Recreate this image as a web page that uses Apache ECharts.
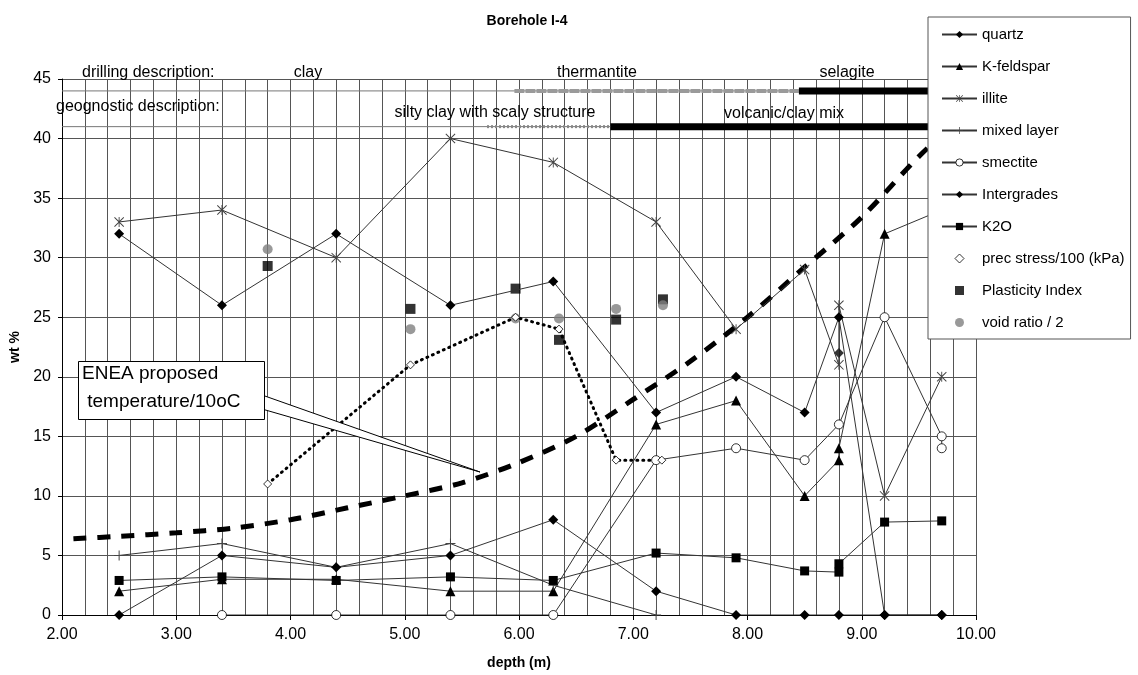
<!DOCTYPE html>
<html>
<head>
<meta charset="utf-8">
<title>Borehole I-4</title>
<script src="https://cdn.jsdelivr.net/npm/echarts@6/dist/echarts.min.js"></script>
<style>
  html, body { margin: 0; padding: 0; background: #fff; }
  #chart { width: 1138px; height: 675px; }
</style>
</head>
<body>
<div id="chart"></div>
<script>
// [depth (m), value] pairs
const quartz = [[2.5, 32], [3.4, 26], [4.4, 32], [5.4, 26], [6.3, 28], [7.2, 17], [7.9, 20], [8.5, 17], [8.8, 25], [9.2, 0], [9.7, 0]];
const quartzExtra = [[8.8, 22]];
const kFeldspar = [[2.5, 2], [3.4, 3], [4.4, 3], [5.4, 2], [6.3, 2], [7.2, 16], [7.9, 18], [8.5, 10], [8.8, 13], [8.8, 14], [9.2, 32], [9.7, 34]];
const illite = [[2.5, 33], [3.4, 34], [4.4, 30], [5.4, 40], [6.3, 38], [7.2, 33], [7.9, 24], [8.5, 29], [8.8, 21], [8.8, 26], [9.2, 10], [9.7, 20]];
const mixedLayer = [[2.5, 5], [3.4, 6], [4.4, 4], [5.4, 6], [6.3, 2.5], [7.2, 0]];
const smectite = [[3.4, 0], [4.4, 0], [5.4, 0], [6.3, 0], [7.2, 13], [7.9, 14], [8.5, 13], [8.8, 16], [9.2, 25], [9.7, 15], [9.7, 14]];
const intergrades = [[2.5, 0], [3.4, 5], [4.4, 4], [5.4, 5], [6.3, 8], [7.2, 2], [7.9, 0], [8.5, 0], [8.8, 0], [9.2, 0], [9.7, 0]];
const k2o = [[2.5, 2.9], [3.4, 3.2], [4.4, 2.9], [5.4, 3.2], [6.3, 2.9], [7.2, 5.2], [7.9, 4.8], [8.5, 3.7], [8.8, 3.6], [8.8, 4.3], [9.2, 7.8], [9.7, 7.9]];
const precStress = [[3.8, 11], [5.05, 21], [5.97, 25], [6.35, 24], [6.85, 13], [7.25, 13]];
const plasticityIndex = [[3.8, 29.3], [5.05, 25.7], [5.97, 27.4], [6.35, 23.1], [6.85, 24.8], [7.26, 26.5]];
const voidRatio = [[3.8, 30.7], [5.05, 24], [5.97, 24.9], [6.35, 24.9], [6.85, 25.7], [7.26, 26]];
const temperature = [[2.1, 6.4], [2.5, 6.6], [3.0, 6.9], [3.5, 7.3], [4.0, 8.0], [4.5, 9.0], [5.0, 10.0], [5.5, 11.1], [6.0, 12.8], [6.5, 15.0], [7.0, 18.1], [7.5, 21.3], [8.0, 25.0], [8.5, 29.2], [9.0, 33.4], [9.5, 38.5], [9.9, 42]];

// description bars
const drillingBase = [[2, 44], [10, 44]];
const drillingThermantite = [[5.96, 44], [8.45, 44]];
const drillingSelagite = [[8.45, 44], [10, 44]];
const geoBase = [[2, 41], [10, 41]];
const geoSilty = [[5.72, 41], [6.8, 41]];
const geoVolcanic = [[6.8, 41], [10, 41]];

const xTicks = { min: 2, max: 10, step: 1 };
const yTicks = { min: 0, max: 45, step: 5 };
const legendNames = ['quartz', 'K-feldspar', 'illite', 'mixed layer', 'smectite', 'Intergrades', 'K2O', 'prec stress/100 (kPa)', 'Plasticity Index', 'void ratio / 2'];

const FONT = '"Liberation Sans", Arial, sans-serif';
const ASTERISK = 'path://M0,0.7L0.7,0L5,4.3L9.3,0L10,0.7L5.7,5L10,9.3L9.3,10L5,5.7L0.7,10L0,9.3L4.3,5Z M4.55,0H5.45V10H4.55Z';
const PLUS = 'path://M4.5,0H5.5V4.5H10V5.5H5.5V10H4.5V5.5H0V4.5H4.5Z';
const SQUARE = 'path://M0,0H10V10H0Z';
const DIAMOND = 'path://M5,0L10,5L5,10L0,5Z';

class BoreholeChart {
  constructor(el) {
    this.chart = echarts.init(el, null, { renderer: 'canvas' });
  }

  init() {
    this.chart.setOption(this.buildOption());
  }

  lineSeries(name, data, symbol, size, color) {
    return {
      name: name,
      type: 'line',
      data: data,
      symbol: symbol,
      symbolSize: size,
      showSymbol: true,
      showAllSymbol: true,
      lineStyle: { color: '#333', width: 1 },
      itemStyle: { color: color || '#000', borderWidth: 0 },
      emphasis: { disabled: true }
    };
  }

  barSeries(data, color, width, type) {
    return {
      type: 'line',
      data: data,
      symbol: 'none',
      silent: true,
      lineStyle: { color: color, width: width, type: type || 'solid', cap: 'butt' },
      emphasis: { disabled: true }
    };
  }

  legendItem(name) {
    if (name === 'prec stress/100 (kPa)') {
      return { name: name, icon: DIAMOND, itemStyle: { color: '#fff', borderColor: '#000', borderWidth: 0.8 } };
    }
    if (name === 'smectite') return { name: name, itemStyle: { color: '#fff', borderColor: '#000', borderWidth: 0.8 } };
    if (name === 'Plasticity Index') return { name: name, icon: SQUARE };
    if (name === 'void ratio / 2') return { name: name, icon: 'circle' };
    return name;
  }

  buildOption() {
    const prec = this.lineSeries('prec stress/100 (kPa)', precStress, DIAMOND, 8);
    prec.lineStyle = { color: '#000', width: 3, type: [1, 5], cap: 'round' };
    prec.itemStyle = { color: '#fff', borderColor: '#000', borderWidth: 0.8 };

    const smect = this.lineSeries('smectite', smectite, 'circle', 9);
    smect.itemStyle = { color: '#fff', borderColor: '#000', borderWidth: 0.8 };

    return {
      animation: false,
      backgroundColor: '#fff',
      textStyle: { fontFamily: FONT },
      title: {
        text: 'Borehole I-4',
        left: 522,
        top: 9,
        textAlign: 'center',
        textStyle: { fontFamily: FONT, fontSize: 14, fontWeight: 'bold', color: '#000' }
      },
      grid: { left: 62, right: 162, top: 79, bottom: 59, containLabel: false },
      legend: {
        data: legendNames.map((n) => this.legendItem(n)),
        orient: 'vertical',
        left: 928,
        top: 17,
        padding: [9, 6, 8, 13],
        itemGap: 15,
        itemWidth: 35,
        itemHeight: 9,
        backgroundColor: '#fff',
        borderColor: '#555',
        borderWidth: 1,
        selectedMode: false,
        textStyle: { fontFamily: FONT, fontSize: 15, color: '#000', lineHeight: 17 }
      },
      xAxis: {
        type: 'value',
        min: xTicks.min,
        max: xTicks.max,
        interval: xTicks.step,
        name: 'depth (m)',
        nameLocation: 'middle',
        nameGap: 41,
        nameTextStyle: { fontFamily: FONT, fontSize: 14, fontWeight: 'bold', color: '#000' },
        axisLine: { show: true, lineStyle: { color: '#000', width: 1 } },
        axisTick: { show: true, length: 5, lineStyle: { color: '#000' } },
        axisLabel: { margin: 12, fontSize: 16, color: '#000', fontFamily: FONT, formatter: (v) => v.toFixed(2) },
        splitLine: { show: true, lineStyle: { color: '#555', width: 1 } },
        minorTick: { show: false, splitNumber: 5 },
        minorSplitLine: { show: true, lineStyle: { color: '#555', width: 1 } }
      },
      yAxis: {
        type: 'value',
        min: yTicks.min,
        max: yTicks.max,
        interval: yTicks.step,
        name: 'wt %',
        nameLocation: 'middle',
        nameGap: 37,
        nameTextStyle: { fontFamily: FONT, fontSize: 14, fontWeight: 'bold', color: '#000' },
        axisLine: { show: true, lineStyle: { color: '#000', width: 1 } },
        axisTick: { show: true, length: 4, lineStyle: { color: '#000' } },
        axisLabel: { margin: 11, fontSize: 16, color: '#000', fontFamily: FONT },
        splitLine: { show: true, lineStyle: { color: '#555', width: 1 } }
      },
      series: [
        this.barSeries(drillingBase, '#777', 1),
        this.barSeries(drillingThermantite, '#9a9a9a', 4, [10, 1]),
        this.barSeries(drillingSelagite, '#000', 7),
        this.barSeries(geoBase, '#777', 1),
        this.barSeries(geoSilty, '#888', 3, [2, 2]),
        this.barSeries(geoVolcanic, '#000', 7),
        {
          type: 'line',
          data: temperature,
          symbol: 'none',
          silent: true,
          smooth: 0.3,
          lineStyle: { color: '#000', width: 5, type: [13, 11] }
        },
        this.lineSeries('quartz', quartz, 'diamond', 10),
        { name: 'quartz', type: 'scatter', data: quartzExtra, symbol: 'diamond', symbolSize: 10, itemStyle: { color: '#000' } },
        this.lineSeries('K-feldspar', kFeldspar, 'triangle', 10),
        this.lineSeries('illite', illite, ASTERISK, 10, '#444'),
        this.lineSeries('mixed layer', mixedLayer, PLUS, 10, '#444'),
        smect,
        this.lineSeries('Intergrades', intergrades, 'diamond', 10),
        this.lineSeries('K2O', k2o, 'rect', 9),
        prec,
        { name: 'Plasticity Index', type: 'scatter', data: plasticityIndex, symbol: 'rect', symbolSize: 10, itemStyle: { color: '#000' } },
        { name: 'void ratio / 2', type: 'scatter', data: voidRatio, symbol: 'circle', symbolSize: 10, itemStyle: { color: '#7f7f7f' } }
      ],
      graphic: this.annotations()
    };
  }

  annotations() {
    const txt = (x, y, text, align, size) => ({
      type: 'text',
      x: x,
      y: y,
      z: 50,
      silent: true,
      style: { text: text, fill: '#000', font: (size || 16) + 'px ' + FONT, align: align, verticalAlign: 'middle' }
    });

    return [
      txt(82, 73, 'drilling description:', 'left'),
      txt(308, 73, 'clay', 'center'),
      txt(597, 73, 'thermantite', 'center'),
      txt(847, 73, 'selagite', 'center'),
      txt(56, 107, 'geognostic description:', 'left'),
      txt(495, 113, 'silty clay with scaly structure', 'center'),
      txt(784, 114, 'volcanic/clay mix', 'center'),
      {
        type: 'polygon',
        z: 40,
        silent: true,
        shape: { points: [[262, 395], [480, 472], [262, 409]] },
        style: { fill: '#fff', stroke: '#000', lineWidth: 1 }
      },
      {
        type: 'rect',
        z: 41,
        silent: true,
        shape: { x: 78.5, y: 361.5, width: 186, height: 58 },
        style: { fill: '#fff', stroke: '#000', lineWidth: 1 }
      },
      txt(82, 374, 'ENEA proposed', 'left', 19),
      txt(82, 402, ' temperature/10oC', 'left', 19)
    ];
  }
}

const boreholeChart = new BoreholeChart(document.getElementById('chart'));
boreholeChart.init();
</script>
</body>
</html>
